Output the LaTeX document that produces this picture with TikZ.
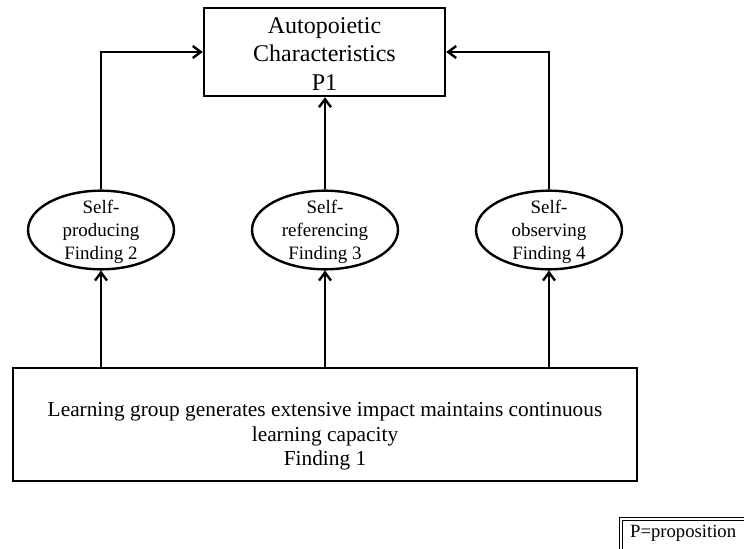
\documentclass[tikz,border=0pt]{standalone}
\usepackage{fontspec}
\setmainfont{Liberation Serif}
\usetikzlibrary{shapes.geometric,arrows.meta}
\begin{document}
\begin{tikzpicture}[x=0.75pt,y=-0.75pt,
  line width=1.8pt,
  arrowline/.style={-{Straight Barb[length=6pt,width=9pt,line width=1.8pt]}},
  mainbox/.style={draw,rectangle,align=center,inner sep=0pt},
  finding/.style={draw,ellipse,inner sep=0pt,
    minimum width=109.5pt,minimum height=59pt},
  findingtext/.style={align=center,inner sep=0pt,
    font=\fontsize{14.2}{17}\selectfont},
  legendbox/.style={draw,double,double distance=1.6pt,line width=0.6pt,
    rectangle,anchor=north west,inner sep=0pt,
    minimum width=120pt,minimum height=40pt}]
\clip (0,0) rectangle (744,549);
\fill[white] (0,0) rectangle (744,549);

% proposition box
\node[mainbox,minimum width=180.75pt,minimum height=66pt] (p1) at (324.5,52) {};
\node[align=center,inner sep=0pt,font=\fontsize{18}{21.3}\selectfont] (p1text)
  at ([yshift=-1.5pt]p1.center) {Autopoietic\\Characteristics\\P1};

% three findings
\node[finding] (f2) at (101,230) {};
\node[finding] (f3) at (325,230) {};
\node[finding] (f4) at (549,230) {};
\node[findingtext] (f2text) at ([yshift=-1.5pt]f2.center) {Self-\\producing\\Finding 2};
\node[findingtext] (f3text) at ([yshift=-1.5pt]f3.center) {Self-\\referencing\\Finding 3};
\node[findingtext] (f4text) at ([yshift=-1.5pt]f4.center) {Self-\\observing\\Finding 4};

% base finding
\node[mainbox,minimum width=468pt,minimum height=84.75pt] (f1) at (325,424.5) {};
\node[align=center,inner sep=0pt,font=\fontsize{16}{18.5}\selectfont] (f1text)
  at ([yshift=-9pt]f1.center)
  {Learning group generates extensive impact maintains continuous\\learning capacity\\Finding 1};

% legend
\node[legendbox] (key) at (620.5,518.5) {};
\node[anchor=west,font=\fontsize{14}{16}\selectfont,inner sep=0pt] (keytext) at (629,533) {P=proposition};

% connectors
\draw[arrowline] (f2.north) |- (p1.west);
\draw[arrowline] (f3.north) -- (f3.north |- p1.south);
\draw[arrowline] (f4.north) |- (p1.east);
\draw[arrowline] (f1.north -| f2.south) -- (f2.south);
\draw[arrowline] (f1.north -| f3.south) -- (f3.south);
\draw[arrowline] (f1.north -| f4.south) -- (f4.south);
\end{tikzpicture}
\end{document}
